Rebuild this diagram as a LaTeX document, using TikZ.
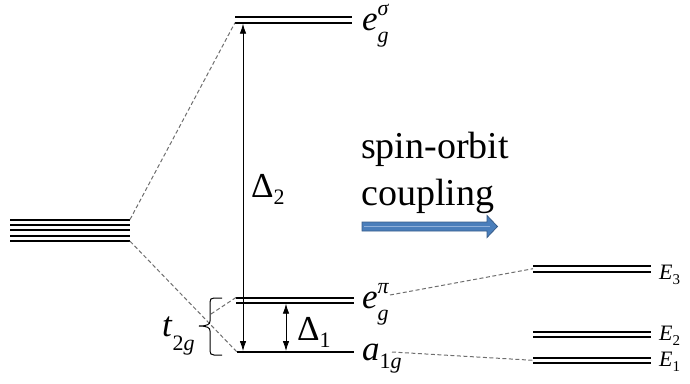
\documentclass[tikz,border=0pt]{standalone}
\usepackage{fontspec}
\setmainfont{Liberation Serif}
\usetikzlibrary{arrows.meta}
\definecolor{dashgray}{HTML}{6E6E6E}
\definecolor{arrowblue}{HTML}{4A7EBB}
\definecolor{arrowedge}{HTML}{385D8A}
\definecolor{arrowlight}{HTML}{8FB0DA}
\newcommand{\scr}{\fontsize{22}{22}\selectfont}
\newcommand{\escr}{\fontsize{15}{15}\selectfont}
% letter, superscript, subscript (manual placement)
\newcommand{\lvSupSub}[3]{\textit{#1}\rlap{\raisebox{15pt}{\scr\textit{#2}}}\raisebox{-12pt}{\scr #3}}
\newcommand{\lvSub}[3]{\textit{#1}\raisebox{-#3}{\scr #2}}
\newcommand{\eSub}[2]{\textit{#1}\raisebox{-5pt}{\escr #2}}
\newcommand{\dSub}[2]{#1\raisebox{-7pt}{\fontsize{22}{22}\selectfont #2}}
\begin{document}
\begin{tikzpicture}[x=1pt,y=-1pt,
  level/.style={line width=2pt},
  conn/.style={dashgray, line width=1pt, dash pattern=on 4pt off 2.5pt},
  gaparrow/.style={{Latex[length=10pt,width=6.5pt]}-{Latex[length=10pt,width=6.5pt]}, line width=0.8pt},
  lbl/.style={inner sep=0pt, anchor=base west, font=\fontsize{35}{40}\selectfont},
  biglbl/.style={inner sep=0pt, anchor=base west, font=\fontsize{35}{42}\selectfont},
  elbl/.style={inner sep=0pt, anchor=base west, font=\fontsize{22}{26}\selectfont},
  sotext/.style={inner sep=0pt, anchor=base west, font=\fontsize{38}{46}\selectfont}]
\useasboundingbox (0,0) rectangle (690,383);

% five degenerate d levels
\foreach \yy [count=\i] in {219.5,224.9,230.3,235.8,241.2}{
  \draw[level] (10,\yy) -- (130,\yy);
}
\coordinate (dtop) at (130,219.5);
\coordinate (dbot) at (130,241.2);

% e_g^sigma
\draw[level] (235,17.3) -- (352,17.3);
\draw[level] (235,22.7) -- (352,22.7);
\coordinate (esL) at (235,22.7);
\coordinate (esB) at (243,23.7);
% e_g^pi
\draw[level] (236,297.5) -- (354,297.5);
\draw[level] (236,302.7) -- (354,302.7);
\coordinate (epL) at (236,297.5);
\coordinate (epB) at (286,303.7);
% a_1g
\draw[level] (237,352) -- (354,352);
\coordinate (aL) at (237,352);
\coordinate (aB) at (243,351);
\coordinate (aB1) at (286,351);

% right levels
\draw[level] (533,266) -- (651,266);
\draw[level] (533,271.5) -- (651,271.5);
\draw[level] (533,331.7) -- (651,331.7);
\draw[level] (533,337) -- (651,337);
\draw[level] (533,357.7) -- (651,357.7);
\draw[level] (533,363) -- (651,363);
\coordinate (E3L) at (533,268.7);
\coordinate (E1L) at (533,360.3);

% dashed correlation lines
\coordinate (bmid) at (211,314);
\draw[conn] (dtop) -- (esL);
\draw[conn] (dbot) -- (aL);
\draw[conn] (epL) -- (bmid);

% gap arrows
\draw[gaparrow] (esB) -- (aB);
\draw[gaparrow] (epB) -- (aB1);

% brace
\draw[line width=1pt] (222,298) -- (214,298) .. controls (211,298) and (210,299.5) .. (210,302) -- (210,321) .. controls (210,324) and (208,326) .. (199,326) .. controls (208,326) and (210,328) .. (210,331) -- (210,351) .. controls (210,353.5) and (211,355) .. (214,355) -- (222,355);

% labels
\node[lbl] (esig) at (362,30) {\lvSupSub{e}{σ}{\textit{g}}};
\node[lbl] (epi) at (362,308) {\lvSupSub{e}{π}{\textit{g}}};
\node[lbl] (a1g) at (362,360) {\lvSub{a}{1\textit{g}}{8pt}};
\node[lbl] (t2g) at (162,336) {\lvSub{t}{2\textit{g}}{14pt}};
\node[biglbl] (D2) at (251,197) {\dSub{Δ}{2}};
\node[biglbl] (D1) at (297,340) {\dSub{Δ}{1}};
\node[elbl] (E3) at (659,279) {\eSub{E}{3}};
\node[elbl] (E2) at (659,340) {\eSub{E}{2}};
\node[elbl] (E1) at (659,366.5) {\eSub{E}{1}};

\coordinate (epR) at (390,295);
\coordinate (aR) at (392,352);
\draw[conn] (epR) -- (E3L);
\draw[conn] (aR) -- (E1L);

% spin-orbit coupling
\node[sotext] (so1) at (361,158) {spin-orbit};
\node[sotext] (so2) at (361,205) {coupling};

% blue arrow
\draw[arrowedge, fill=arrowblue, line width=0.8pt] (362,222) -- (487,222) -- (487,215.5) -- (497.5,226.5) -- (487,237.5) -- (487,231) -- (362,231) -- cycle;
\draw[arrowlight, line width=1.2pt] (364,226.5) -- (490,226.5);
\end{tikzpicture}
\end{document}
